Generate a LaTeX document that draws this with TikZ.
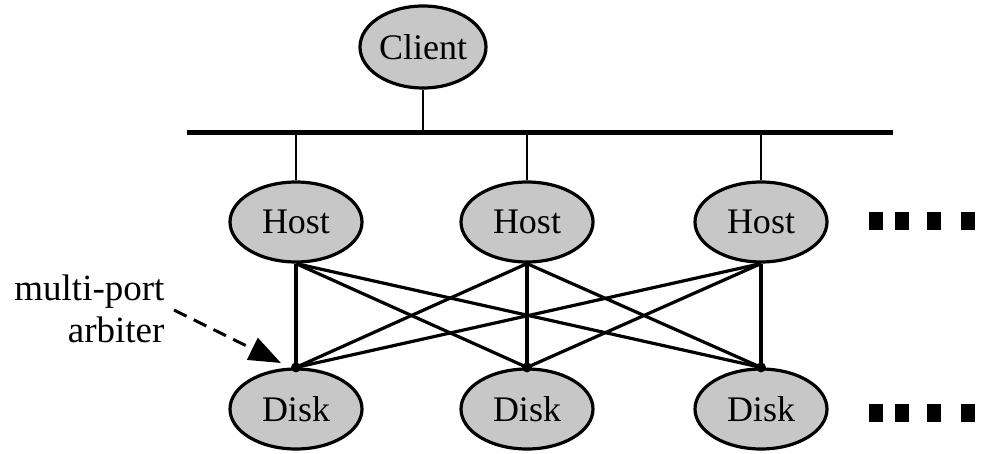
\documentclass[tikz,border=0pt]{standalone}
\usepackage{fontspec}
\setmainfont{Liberation Serif}
\usetikzlibrary{shapes.geometric,arrows.meta}
\begin{document}
\begin{tikzpicture}[x=1pt,y=-1pt,
  unit/.style={ellipse,draw,line width=3.2pt,fill=black!22,inner sep=0pt,
    minimum width=132pt,minimum height=80pt,font=\fontsize{36}{40}\selectfont},
  wire/.style={line width=3.2pt},
  stub/.style={line width=2.2pt},
  port/.style={circle,fill=black,inner sep=0pt,minimum size=10pt},
  more/.style={fill=black}]
\useasboundingbox (0,0) rectangle (981,454);

% client and shared bus
\node[unit,minimum width=126pt,minimum height=82pt] (client) at (423,47) {Client};
\coordinate (busL) at (187,133);
\coordinate (busR) at (893,133);
\draw[line width=5pt] (busL) -- (busR);
\draw[stub] (client.south) -- (client.south |- busL);

% hosts
\node[unit] (h1) at (296,222) {Host};
\node[unit] (h2) at (527,222) {Host};
\node[unit] (h3) at (761,222) {Host};
\foreach \h in {h1,h2,h3}
  \draw[stub] (\h.north |- busL) -- (\h.north);

% disks
\node[unit] (d1) at (296,409) {Disk};
\node[unit] (d2) at (527,409) {Disk};
\node[unit] (d3) at (761,409) {Disk};

% full host-disk crossbar
\foreach \h in {h1,h2,h3}
  \foreach \d in {d1,d2,d3}
    \draw[wire] (\h.south) -- (\d.north);
\foreach \d in {d1,d2,d3}
  \node[port] (p\d) at (\d.north) {};

% continuation marks
\foreach \y in {221,413}
  \foreach \x in {869,895,927,961}
    \fill[more] (\x,\y-9) rectangle (\x+14,\y+9);

% arbiter label
\node[align=right,anchor=east,font=\fontsize{37}{42}\selectfont] (lbl) at (168,309)
  {multi-port\\arbiter};
\coordinate (astart) at (174,310);
\coordinate (atip) at (281,363);
\draw[line width=3pt,dash pattern=on 14pt off 8pt,
  -{Triangle[length=32pt,width=24pt]}] (astart) -- (atip);
\end{tikzpicture}
\end{document}
